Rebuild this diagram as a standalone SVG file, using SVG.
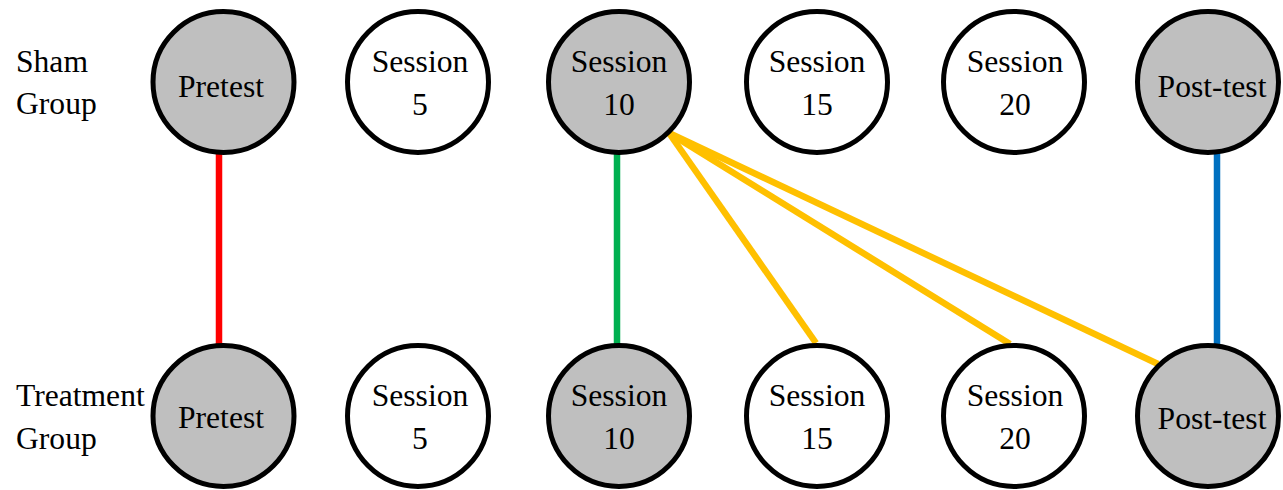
<svg xmlns="http://www.w3.org/2000/svg" width="1283" height="490" viewBox="0 0 1283 490">
<style>
text{font-family:"Liberation Serif","Times New Roman",serif;font-size:31.6px;fill:#000}
.c{text-anchor:middle}
.n{stroke:#000;stroke-width:5}
.g{fill:#bfbfbf}
.w{fill:#fff}
.l{stroke-width:6.5;fill:none}
</style>
<rect width="1283" height="490" fill="#fff"/>
<g id="labels">
<text x="16" y="72">Sham</text>
<text x="16" y="114">Group</text>
<text x="16" y="406">Treatment</text>
<text x="16" y="449">Group</text>
</g>
<g id="connectors">
<line class="l" x1="219" y1="150" x2="219" y2="347" stroke="#ff0000"/>
<line class="l" x1="617" y1="150" x2="617" y2="347" stroke="#00b050"/>
<line class="l" x1="1217" y1="150" x2="1217" y2="347" stroke="#0070c0"/>
<line class="l" x1="669" y1="133" x2="816" y2="343" stroke="#ffc000"/>
<line class="l" x1="669" y1="133" x2="1010" y2="344" stroke="#ffc000"/>
<line class="l" x1="669" y1="133" x2="1158" y2="364" stroke="#ffc000"/>
</g>
<g id="sham-pretest"><circle class="n g" cx="223.5" cy="82" r="70.5"/><text class="c" x="221" y="97">Pretest</text></g>
<g id="sham-s5"><circle class="n w" cx="418" cy="82" r="70.5"/><text class="c" x="420" y="72">Session</text><text class="c" x="420" y="115">5</text></g>
<g id="sham-s10"><circle class="n g" cx="619" cy="82" r="70.5"/><text class="c" x="619" y="72">Session</text><text class="c" x="619" y="115">10</text></g>
<g id="sham-s15"><circle class="n w" cx="817" cy="82" r="70.5"/><text class="c" x="817" y="72">Session</text><text class="c" x="817" y="115">15</text></g>
<g id="sham-s20"><circle class="n w" cx="1014" cy="82" r="70.5"/><text class="c" x="1015" y="72">Session</text><text class="c" x="1015" y="115">20</text></g>
<g id="sham-post"><circle class="n g" cx="1208" cy="82" r="70.5"/><text class="c" x="1212" y="97">Post-test</text></g>
<g id="treat-pretest"><circle class="n g" cx="223.5" cy="416" r="70.5"/><text class="c" x="221" y="428">Pretest</text></g>
<g id="treat-s5"><circle class="n w" cx="418" cy="416" r="70.5"/><text class="c" x="420" y="406">Session</text><text class="c" x="420" y="449">5</text></g>
<g id="treat-s10"><circle class="n g" cx="619" cy="416" r="70.5"/><text class="c" x="619" y="406">Session</text><text class="c" x="619" y="449">10</text></g>
<g id="treat-s15"><circle class="n w" cx="817" cy="416" r="70.5"/><text class="c" x="817" y="406">Session</text><text class="c" x="817" y="449">15</text></g>
<g id="treat-s20"><circle class="n w" cx="1014" cy="416" r="70.5"/><text class="c" x="1015" y="406">Session</text><text class="c" x="1015" y="449">20</text></g>
<g id="treat-post"><circle class="n g" cx="1208" cy="416" r="70.5"/><text class="c" x="1212" y="429">Post-test</text></g>
</svg>
